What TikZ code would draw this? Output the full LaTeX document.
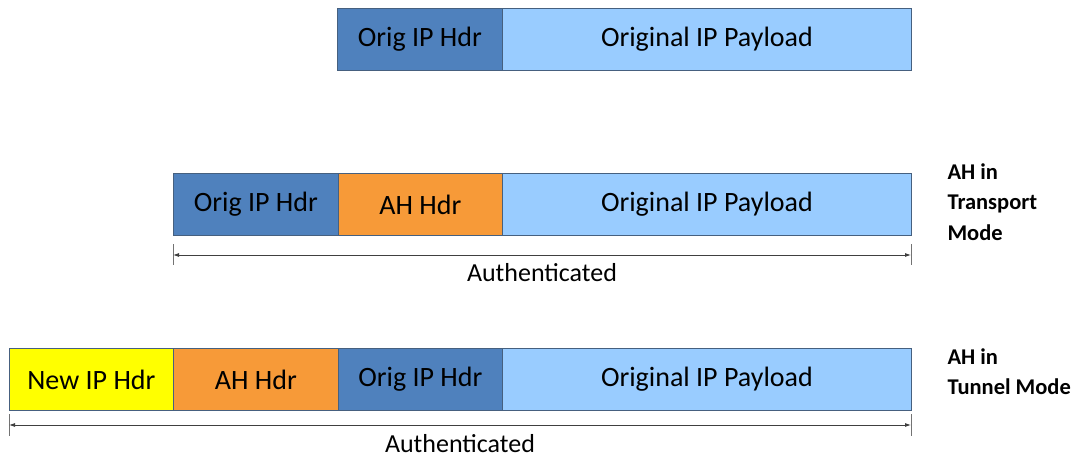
\documentclass[tikz,border=0pt]{standalone}
\usepackage{fontspec}
\setmainfont{Carlito}
\usetikzlibrary{arrows.meta}
\definecolor{hdrblue}{HTML}{4F81BD}
\definecolor{payblue}{HTML}{99CCFF}
\definecolor{ahorange}{HTML}{F79A38}
\definecolor{newyellow}{HTML}{FFFF00}
\definecolor{edge}{HTML}{46607F}
\tikzset{
  field/.style={draw=edge, line width=0.8pt, minimum height=62pt, inner sep=0pt,
    anchor=north west, font=\fontsize{28}{30}\selectfont, text=black},
  measure/.style={line width=0.8pt, draw=black!75, {Latex[length=6pt,width=4pt]}-{Latex[length=6pt,width=4pt]}},
  tick/.style={line width=0.8pt, draw=black!55},
  modelabel/.style={anchor=north west, align=left, font=\fontsize{22.5}{30.5}\selectfont\bfseries},
  caption/.style={font=\fontsize{26}{28}\selectfont}
}
\begin{document}
\begin{tikzpicture}[x=1pt,y=-1pt]
\useasboundingbox (0,0) rectangle (1088,460);

% original datagram
\node[field, fill=hdrblue, minimum width=165pt] (o1) at (337,8) {Orig IP Hdr};
\node[field, fill=payblue, minimum width=409pt] (o2) at (502,8) {Original IP Payload};

% transport mode
\node[field, fill=hdrblue, minimum width=165pt] (t1) at (173,173) {Orig IP Hdr};
\node[field, fill=ahorange, minimum width=164pt] (t2) at (338,173) {AH Hdr};
\node[field, fill=payblue, minimum width=409pt] (t3) at (502,173) {Original IP Payload};
\node[modelabel] (tl) at (944,160) {AH in\\Transport\\Mode};

\coordinate (ta) at (173,244);
\coordinate (tb) at (173,265);
\coordinate (tc) at (911,244);
\coordinate (td) at (911,265);
\draw[tick] (ta) -- (tb);
\draw[tick] (tc) -- (td);
\coordinate (tl1) at (173,255);
\coordinate (tr1) at (911,255);
\draw[measure] (tl1) -- (tr1);
\node[caption] (tcap) at (542,273) {Authenticated};

% tunnel mode
\node[field, fill=newyellow, minimum width=164pt] (u1) at (9,348) {New IP Hdr};
\node[field, fill=ahorange, minimum width=165pt] (u2) at (173,348) {AH Hdr};
\node[field, fill=hdrblue, minimum width=164pt] (u3) at (338,348) {Orig IP Hdr};
\node[field, fill=payblue, minimum width=409pt] (u4) at (502,348) {Original IP Payload};
\node[modelabel] (ul) at (944,345) {AH in\\Tunnel Mode};

\coordinate (ua) at (9,414);
\coordinate (ub) at (9,436);
\coordinate (uc) at (911,414);
\coordinate (ud) at (911,436);
\draw[tick] (ua) -- (ub);
\draw[tick] (uc) -- (ud);
\coordinate (ul1) at (9,425);
\coordinate (ur1) at (911,425);
\draw[measure] (ul1) -- (ur1);
\node[caption] (ucap) at (460,444) {Authenticated};
\end{tikzpicture}
\end{document}
